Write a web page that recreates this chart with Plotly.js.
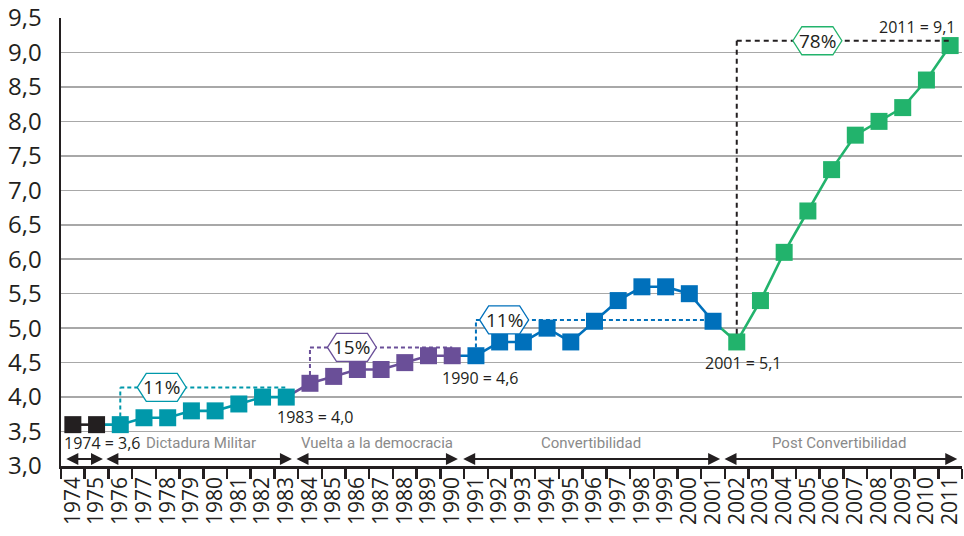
<!DOCTYPE html>
<html>
<head>
<meta charset="utf-8">
<script src="https://cdn.plot.ly/plotly-3.0.1.min.js"></script>
<style>html,body{margin:0;padding:0;background:#fff;}#chart{width:964px;height:536px;}</style>
</head>
<body>
<div id="chart"></div>
<script>
// ---- Data ----
const years = ['1974','1975','1976','1977','1978','1979','1980','1981','1982','1983',
  '1984','1985','1986','1987','1988','1989','1990','1991','1992','1993','1994','1995',
  '1996','1997','1998','1999','2000','2001','2002','2003','2004','2005','2006','2007',
  '2008','2009','2010','2011'];
const preValues = [3.6, 3.6];                                         // 1974-1975
const dictaduraValues = [3.6, 3.7, 3.7, 3.8, 3.8, 3.9, 4.0, 4.0];     // 1976-1983
const democraciaValues = [4.2, 4.3, 4.4, 4.4, 4.5, 4.6, 4.6];         // 1984-1990
const convertibilidadValues = [4.6, 4.8, 4.8, 5.0, 4.8, 5.1, 5.4, 5.6, 5.6, 5.5, 5.1]; // 1991-2001
const postConvValues = [4.8, 5.4, 6.1, 6.7, 7.3, 7.8, 8.0, 8.2, 8.6, 9.1];             // 2002-2011
const periodNames = ['', 'Dictadura Militar', 'Vuelta a la democracia', 'Convertibilidad', 'Post Convertibilidad'];
const growthLabels = ['11%', '15%', '11%', '78%'];
const pointLabels = ['1974 = 3,6', '1983 = 4,0', '1990 = 4,6', '2001 = 5,1', '2011 = 9,1'];

// ---- Styling ----
const colors = ['#231f20', '#0098aa', '#6a4f98', '#0070bb', '#22b36c'];
const dark = '#231f20';
const numFont = 'Open Sans, Noto Sans, sans-serif';
const condFont = 'Roboto, Liberation Sans, sans-serif';

const periods = [preValues, dictaduraValues, democraciaValues, convertibilidadValues, postConvValues];
const starts = [];
let s = 0;
periods.forEach(p => { starts.push(s); s += p.length; });

const lineTraces = [], markerTraces = [];
periods.forEach((vals, k) => {
  const st = starts[k];
  const xs = years.slice(st, st + vals.length);
  let lx = xs.slice(), ly = vals.slice();
  if (k > 0) {
    const pv = periods[k - 1];
    lx = [years[st - 1]].concat(lx);
    ly = [pv[pv.length - 1]].concat(ly);
  }
  lineTraces.push({x: lx, y: ly, type: 'scatter', mode: 'lines',
    line: {color: colors[k], width: 2.6}, hoverinfo: 'skip', showlegend: false});
  markerTraces.push({x: xs, y: vals, type: 'scatter', mode: 'markers',
    marker: {symbol: 'square', size: 17, color: colors[k]}, showlegend: false});
});

// Growth brackets
const bracketLevels = [4.14, 4.72, 5.12, 9.17];
const bracketColors = [colors[1], colors[2], colors[3], dark];
const hexColors = [colors[1], colors[2], colors[3], colors[4]];
const bracketFrom = [2, 10, 17, 28];
const bracketTo = [9, 16, 27, 37];
const bracketFromVal = [dictaduraValues[0], democraciaValues[0], convertibilidadValues[0], postConvValues[0]];
const hexPos = [3.75, 11.77, 18.19, 31.4];

const shapes = [];
const annotations = [];
for (let i = 0; i < 4; i++) {
  const dash = i === 3 ? '5px,4px' : '4px,3px';
  shapes.push({type: 'line', xref: 'x', yref: 'y', x0: bracketFrom[i], x1: bracketFrom[i],
    y0: bracketFromVal[i] + 0.12, y1: bracketLevels[i], line: {color: bracketColors[i], width: 2, dash: dash}});
  shapes.push({type: 'line', xref: 'x', yref: 'y', x0: bracketFrom[i], x1: bracketTo[i],
    y0: bracketLevels[i], y1: bracketLevels[i], line: {color: bracketColors[i], width: 2, dash: dash}});
}
for (let i = 0; i < 4; i++) {
  shapes.push({type: 'path', xref: 'x', yref: 'y', xsizemode: 'pixel', ysizemode: 'pixel',
    xanchor: hexPos[i], yanchor: bracketLevels[i],
    path: 'M -24.5 0 L -15.5 14 L 15.5 14 L 24.5 0 L 15.5 -14 L -15.5 -14 Z',
    fillcolor: '#ffffff', line: {color: hexColors[i], width: 1.3}});
  annotations.push({x: hexPos[i], y: bracketLevels[i], xref: 'x', yref: 'y', text: growthLabels[i],
    showarrow: false, font: {family: numFont, size: 19, color: dark}});
}

// Point labels
const plX = [1.27, 10.25, 17.2, 28.27, 37.35];
const plY = [3.33, 3.71, 4.28, 4.5, 9.37];
pointLabels.forEach((t, i) => {
  annotations.push({x: plX[i], y: plY[i], xref: 'x', yref: 'y', text: t, showarrow: false,
    xanchor: i === 4 ? 'right' : 'center',
    font: {family: numFont, size: 16, color: dark}});
});

// Period labels
const periodLabelX = [null, 5.4, 12.83, 21.86, 32.3];
for (let k = 1; k < 5; k++) {
  annotations.push({x: periodLabelX[k], y: 3.33, xref: 'x', yref: 'y', text: periodNames[k],
    showarrow: false, font: {family: condFont, size: 15, color: '#8a8a8a'}});
}

// Period arrows
const arrowFrom = [-0.34, 1.35, 9.37, 16.4, 27.42];
const arrowTo = [1.27, 9.24, 16.24, 27.3, 37.3];
for (let k = 0; k < 5; k++) {
  annotations.push({x: arrowTo[k], y: 3.1, ax: arrowFrom[k], ay: 3.1, xref: 'x', yref: 'y',
    axref: 'x', ayref: 'y', text: '', showarrow: true, arrowside: 'end+start',
    arrowhead: 2, startarrowhead: 2, arrowsize: 1.2, startarrowsize: 1.2, arrowwidth: 2, arrowcolor: dark,
    standoff: 0, startstandoff: 0});
}

const layout = {
  width: 964, height: 536,
  margin: {l: 61, r: 2, t: 18, b: 70},
  paper_bgcolor: '#ffffff', plot_bgcolor: '#ffffff',
  separators: ',.',
  showlegend: false,
  xaxis: {
    type: 'category', range: [-0.5, 37.5], showgrid: false, zeroline: false,
    showline: true, linecolor: dark, linewidth: 2.5,
    tickmode: 'array', tickvals: years, ticktext: years,
    ticks: 'outside', tickson: 'boundaries', ticklen: 10, tickwidth: 2.5, tickcolor: dark,
    tickangle: -90, tickfont: {family: numFont, size: 21, color: dark}, automargin: false
  },
  yaxis: {
    range: [3.0, 9.5], dtick: 0.5, tick0: 3, tickformat: '.1f',
    showgrid: true, gridcolor: '#a8a8a8', gridwidth: 1.5, zeroline: false,
    showline: true, linecolor: dark, linewidth: 2.5,
    ticks: 'outside', ticklen: 12, tickcolor: 'rgba(0,0,0,0)',
    tickfont: {family: numFont, size: 24, color: dark}, automargin: false
  },
  shapes: shapes,
  annotations: annotations
};

Plotly.newPlot('chart', lineTraces.concat(markerTraces), layout, {displayModeBar: false, staticPlot: true});
</script>
</body>
</html>
